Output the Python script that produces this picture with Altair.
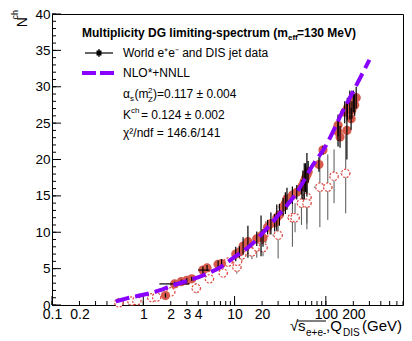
import altair as alt
import pandas as pd

# ---------------- data ----------------
curve_x = [0.5, 0.7, 1.0, 1.5, 2, 3, 5, 7, 10, 15, 20, 30, 50, 70, 100, 150, 200, 300]
curve_y = [0.5, 1.0, 1.4, 2.0, 2.6, 3.3, 4.3, 5.2, 6.6, 8.2, 9.8, 12.3, 15.8, 19.0, 21.9, 26.4, 29.4, 33.7]

# e+e- data (filled circles)
ee_x = [1.75, 2.2, 2.6, 3.0, 3.4, 4.5, 5.0, 6.6, 7.2, 10.3, 11.3, 12.4, 14.0,
        17.5, 19.5, 20.5, 23, 25, 27.5, 29, 31, 34, 36, 37.5, 43, 48, 54,
        56, 58, 60, 62, 64, 84, 93, 136, 136, 143, 170, 161, 172, 183, 189,
        193, 200, 207, 215]
ee_y = [1.3, 2.9, 3.2, 3.4, 3.6, 4.8, 5.1, 5.6, 5.7, 7.0, 7.3, 8.1, 8.7,
        9.1, 9.5, 9.2, 10.7, 11.2, 11.3, 12.0, 12.4, 13.5, 14.0, 14.6, 15.1, 15.5, 16.2,
        16.5, 17.0, 17.5, 17.9, 18.3, 19.3, 21.3, 24.7, 23.8, 23.1, 24.0, 26.5, 27.0, 27.5, 25.6,
        26.8, 28.0, 27.5, 28.5]
ee_err = [0.3, 0.3, 0.3, 0.3, 0.3, 0.5, 0.4, 0.5, 0.6, 1.0, 0.8, 1.2, 2.2,
          1.0, 2.8, 1.2, 1.0, 1.5, 1.2, 1.8, 1.5, 1.2, 1.5, 1.5, 1.2, 1.0, 1.0,
          2.0, 2.5, 2.0, 3.0, 1.5, 1.0, 0.6, 1.5, 2.0, 1.5, 4.0, 1.5, 1.5, 2.0, 1.5,
          1.2, 1.5, 1.5, 1.5]
# wide energy bins drawn with horizontal bars
wide_lo = [1.5, 4.0]
wide_hi = [3.2, 5.3]
wide_y = [2.9, 4.8]

# DIS jet data (open circles)
dis_x = [0.54, 0.75, 0.85, 1.24, 1.4, 2.0, 3.8, 5.3, 7.5, 8.5, 10.6, 10.8, 12.0, 15.5,
         17.5, 20.5, 22, 30, 43, 46, 54, 62, 62, 86, 105, 123, 165]
dis_y = [0.3, 0.55, 0.6, 1.0, 1.1, 1.8, 2.3, 3.6, 4.4, 5.9, 5.2, 6.0, 6.9, 7.3,
         8.0, 7.9, 10.0, 9.6, 12.0, 12.0, 14.0, 14.8, 14.0, 16.2, 16.2, 17.7, 18.1]
dis_err = [0.2, 0.2, 0.2, 0.3, 0.3, 0.3, 0.7, 0.5, 0.6, 0.6, 0.9, 0.8, 0.8, 1.0,
           1.5, 1.2, 1.5, 3.2, 4.0, 2.0, 3.0, 3.6, 3.6, 5.5, 4.5, 3.7, 5.5]
dis_xlo = [0.5, 0.7, 0.8, 1.1, 1.3, 1.8, 3.4, 4.8, 6.8, 7.7, 9.5, 9.8, 10.8, 14,
           15.8, 18.5, 20, 26, 38, 41, 48, 55, 55, 74, 93, 110, 145]
dis_xhi = [0.6, 0.8, 0.9, 1.35, 1.55, 2.2, 4.3, 5.9, 8.3, 9.4, 11.8, 12, 13.3, 17,
           19.4, 22.8, 24.5, 34, 48, 52, 60, 70, 70, 96, 118, 137, 185]

# axis tick values
y_major = list(range(0, 41, 5))
y_minor = list(range(0, 41))
x_labels = [0.1, 0.2, 1, 2, 3, 4, 10, 20, 100, 200]
x_major = [0.1, 1, 10, 100]
x_minor = [m * 10 ** e for e in range(-1, 3) for m in range(1, 10) if m * 10 ** e <= 700]

# ---------------- styling ----------------
FONT = "Liberation Sans"
W, H = 351, 291
PURPLE = "#8800ff"
RED = "#d65a4c"
RED_O = "#e0473f"

xscale = alt.Scale(type="log", domain=[0.1, 700], nice=False)
yscale = alt.Scale(domain=[0, 40], nice=False)
xaxis = alt.Axis(values=x_labels, format="~g", ticks=False, domain=False, grid=False,
                 labelFontSize=14, labelFont=FONT, labelColor="black", labelPadding=2,
                 labelOverlap=False, labelFlush=False, labelBound=False, title=None)
yaxis = alt.Axis(values=y_major, format="d", ticks=False, domain=False, grid=False,
                 labelFontSize=13.5, labelFont=FONT, labelColor="black", labelPadding=2,
                 labelOverlap=False, labelFlush=False, labelBound=False, title=None)


def X(f):
    return alt.X(f, type="quantitative", scale=xscale, axis=xaxis)


def Y(f):
    return alt.Y(f, type="quantitative", scale=yscale, axis=yaxis)


one = pd.DataFrame({"a": [0]})

ee = pd.DataFrame({"x": ee_x, "y": ee_y, "e": ee_err})
ee["lo"] = ee["y"] - ee["e"]
ee["hi"] = ee["y"] + ee["e"]
wide = pd.DataFrame({"lo": wide_lo, "hi": wide_hi, "y": wide_y})
dis = pd.DataFrame({"x": dis_x, "y": dis_y, "e": dis_err, "xlo": dis_xlo, "xhi": dis_xhi})
dis["lo"] = (dis["y"] - dis["e"]).clip(lower=0)
dis["hi"] = dis["y"] + dis["e"]
curve = pd.DataFrame({"x": curve_x, "y": curve_y})

layers = []
# inward ticks
layers.append(alt.Chart(pd.DataFrame({"v": y_minor})).mark_rule(color="black", strokeWidth=1)
              .encode(y=Y("v"), x=alt.value(0), x2=alt.value(4)))
layers.append(alt.Chart(pd.DataFrame({"v": y_major})).mark_rule(color="black", strokeWidth=1)
              .encode(y=Y("v"), x=alt.value(0), x2=alt.value(9)))
layers.append(alt.Chart(pd.DataFrame({"v": x_minor})).mark_rule(color="black", strokeWidth=1)
              .encode(x=X("v"), y=alt.value(H), y2=alt.value(H - 4)))
layers.append(alt.Chart(pd.DataFrame({"v": x_major})).mark_rule(color="black", strokeWidth=1)
              .encode(x=X("v"), y=alt.value(H), y2=alt.value(H - 9)))

# DIS error bars + open circles
layers.append(alt.Chart(dis).mark_rule(color="#555555", strokeWidth=1)
              .encode(x=X("x"), y=Y("lo"), y2="hi"))
layers.append(alt.Chart(dis).mark_rule(color="#555555", strokeWidth=1)
              .encode(x=X("xlo"), x2="xhi", y=Y("y")))
layers.append(alt.Chart(dis).mark_point(shape="circle", filled=True, fill="white", stroke=RED_O,
                                        strokeWidth=1.2, strokeDash=[2, 1.5], size=70, opacity=1)
              .encode(x=X("x"), y=Y("y")))
# e+e- points and bars
layers.append(alt.Chart(ee).mark_point(shape="circle", filled=True, color=RED, size=85, opacity=1)
              .encode(x=X("x"), y=Y("y")))
layers.append(alt.Chart(ee).mark_rule(color="black", strokeWidth=1.2)
              .encode(x=X("x"), y=Y("lo"), y2="hi"))
layers.append(alt.Chart(wide).mark_rule(color="black", strokeWidth=1.2)
              .encode(x=X("lo"), x2="hi", y=Y("y")))
# theory curve
layers.append(alt.Chart(curve).mark_line(color=PURPLE, strokeWidth=4, strokeDash=[14, 6],
                                         interpolate="monotone")
              .encode(x=X("x"), y=Y("y")))


def txt(s, x, y, size=12, bold=False, angle=0, align="left", baseline="alphabetic"):
    kw = dict(text=s, font=FONT, fontSize=size, fontWeight="bold" if bold else "normal",
              align=align, baseline=baseline, color="black")
    if angle:
        kw["angle"] = angle
    return alt.Chart(one).mark_text(**kw).encode(x=alt.value(x), y=alt.value(y))


def line(x1, x2, y, color="black", width=1, dash=None):
    kw = dict(color=color, strokeWidth=width)
    if dash:
        kw["strokeDash"] = dash
    return alt.Chart(one).mark_rule(**kw).encode(x=alt.value(x1), x2=alt.value(x2), y=alt.value(y))


# legend / annotations
layers += [
    txt("Multiplicity DG limiting-spectrum (m", 30, 23, bold=True),
    txt("eff", 236, 26, size=8, bold=True),
    txt("=130 MeV)", 245, 23, bold=True),
    line(33, 61, 39, width=1.2),
    alt.Chart(one).mark_rule(color="black", strokeWidth=1.2)
    .encode(x=alt.value(47), y=alt.value(35), y2=alt.value(43)),
    alt.Chart(one).mark_point(shape="square", filled=True, color="black", size=25, opacity=1)
    .encode(x=alt.value(47), y=alt.value(39)),
    txt("World e⁺e⁻ and DIS jet data", 71, 43),
    line(30, 63, 59, color=PURPLE, width=4, dash=[14, 4]),
    txt("NLO*+NNLL", 71, 63),
    txt("α", 71, 84),
    txt("s", 78, 87, size=8),
    txt("(m", 82.5, 84),
    txt("2", 96, 79, size=8),
    txt("Z", 96, 88, size=8),
    txt(")=0.117 ± 0.004", 101, 84),
    txt("K", 71, 105),
    txt("ch", 79, 99, size=8),
    txt("=  0.124 ± 0.002", 89, 105),
    txt("χ²/ndf = 146.6/141", 71, 123),
    # y title
    txt("N", -25, 3, size=14, angle=270, align="right"),
    txt("ch", -34, -4, size=9, angle=270, align="right"),
    # x title
    txt("√", 238, 317, size=15),
    line(245, 274, 307, width=1),
    txt("s", 246, 317, size=15),
    txt("e+e-", 254, 321.5, size=10),
    txt(",Q", 274, 317, size=15),
    txt("DIS", 291, 321.5, size=10),
    txt("(GeV)", 350, 317, size=15, align="right"),
]

chart = alt.layer(*layers).properties(
    width=W, height=H,
    padding={"left": 44, "top": 6, "right": 1, "bottom": 34},
    autosize=alt.AutoSizeParams(type="none"),
    background="white",
).configure_view(stroke="black", strokeWidth=1)

chart.save("out.html", embed_options={"renderer": "svg", "actions": False})
